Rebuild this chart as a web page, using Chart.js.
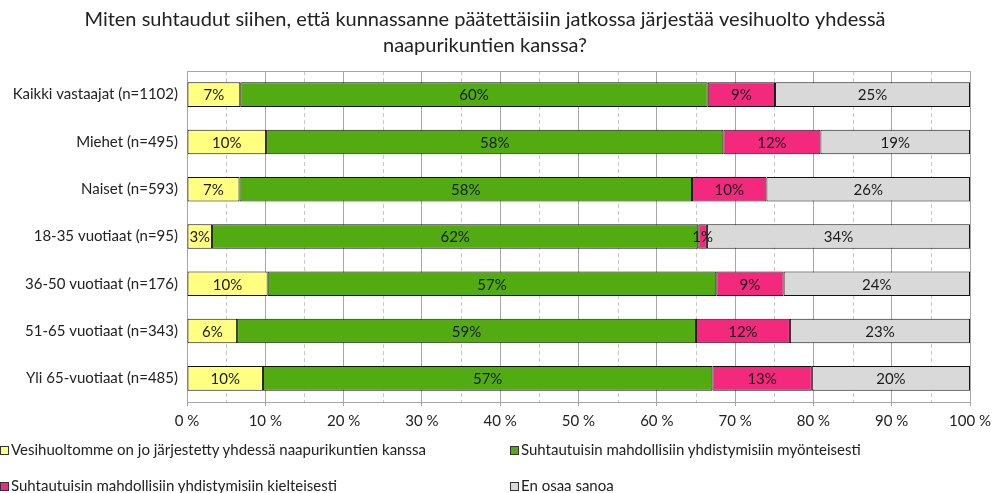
<!DOCTYPE html>
<html>
<head>
<meta charset="utf-8">
<script src="https://cdn.jsdelivr.net/npm/chart.js@4.4.0/dist/chart.umd.min.js"></script>
<style>
  html, body { margin: 0; padding: 0; background: #fff; }
  #wrap { position: relative; width: 992px; height: 493px; }
  canvas { position: absolute; left: 0; top: 0; }
  .leg { position: absolute; font-family: Lato, sans-serif; font-size: 15px; color: #222; white-space: nowrap; line-height: 18px; }
  .leg i { display: inline-block; width: 7px; height: 7px; border: 1px solid #333; margin-right: 2px; vertical-align: 0px; }
</style>
</head>
<body>
<div id="wrap">
  <canvas id="c" width="992" height="493"></canvas>
  <div class="leg" style="left:0px; top:440px;"><i style="background:#FFFF80"></i>Vesihuoltomme on jo järjestetty yhdessä naapurikuntien kanssa</div>
  <div class="leg" style="left:510px; top:440px;"><i style="background:#52AB10"></i>Suhtautuisin mahdollisiin yhdistymisiin myönteisesti</div>
  <div class="leg" style="left:0px; top:476px;"><i style="background:#F2297D"></i>Suhtautuisin mahdollisiin yhdistymisiin kielteisesti</div>
  <div class="leg" style="left:510px; top:476px;"><i style="background:#D9D9D9"></i>En osaa sanoa</div>
</div>
<script>
const categories = [
  'Kaikki vastaajat (n=1102)',
  'Miehet (n=495)',
  'Naiset (n=593)',
  '18-35 vuotiaat (n=95)',
  '36-50 vuotiaat (n=176)',
  '51-65 vuotiaat (n=343)',
  'Yli 65-vuotiaat (n=485)'
];
const seriesNames = [
  'Vesihuoltomme on jo järjestetty yhdessä naapurikuntien kanssa',
  'Suhtautuisin mahdollisiin yhdistymisiin myönteisesti',
  'Suhtautuisin mahdollisiin yhdistymisiin kielteisesti',
  'En osaa sanoa'
];
const jarjestetty = [6.8, 10.1, 6.7, 3.2, 10.3, 6.4, 9.7];
const myonteisesti = [59.7, 58.4, 57.8, 62.1, 57.3, 58.6, 57.4];
const kielteisesti = [8.6, 12.4, 9.5, 1.1, 8.6, 12.0, 12.7];
const enOsaa = [24.9, 19.1, 26.0, 33.6, 23.8, 23.0, 20.2];
const tickValues = [0, 10, 20, 30, 40, 50, 60, 70, 80, 90, 100];
const colors = ['#FFFF80', '#52AB10', '#F2297D', '#D9D9D9'];

const FONT = 'Lato, sans-serif';

const extrasPlugin = {
  id: 'extras',
  beforeDatasetsDraw(chart) {
    const ctx = chart.ctx, a = chart.chartArea, x = chart.scales.x;
    ctx.save();
    ctx.strokeStyle = '#C8C8C8';
    ctx.lineWidth = 1;
    ctx.setLineDash([4, 3]);
    for (let v = 5; v < 100; v += 10) {
      const px = Math.round(x.getPixelForValue(v)) + 0.5;
      ctx.beginPath(); ctx.moveTo(px, a.top); ctx.lineTo(px, a.bottom); ctx.stroke();
    }
    ctx.setLineDash([]);
    ctx.strokeStyle = '#A6A6A6';
    ctx.beginPath();
    ctx.moveTo(a.left, Math.round(a.top) + 0.5);
    ctx.lineTo(a.right, Math.round(a.top) + 0.5);
    ctx.stroke();
    ctx.restore();
  },
  afterDatasetsDraw(chart) {
    const ctx = chart.ctx;
    ctx.save();
    ctx.font = '15px ' + FONT;
    ctx.fillStyle = '#1a1a1a';
    ctx.textAlign = 'center';
    ctx.textBaseline = 'middle';
    chart.data.datasets.forEach((ds, i) => {
      const meta = chart.getDatasetMeta(i);
      meta.data.forEach((el, j) => {
        const v = ds.data[j];
        const cx = (el.x + el.base) / 2;
        ctx.fillText(Math.round(v) + '%', cx, el.y + 1);
      });
    });
    ctx.restore();
  }
};

const datasets = [jarjestetty, myonteisesti, kielteisesti, enOsaa].map((d, i) => ({
  label: seriesNames[i],
  data: d,
  backgroundColor: colors[i],
  borderColor: '#111',
  borderWidth: 1,
  borderSkipped: false,
  barPercentage: 0.52,
  categoryPercentage: 1.0
}));

new Chart(document.getElementById('c'), {
  type: 'bar',
  data: { labels: categories, datasets },
  options: {
    indexAxis: 'y',
    responsive: false,
    animation: false,
    devicePixelRatio: 1,
    layout: { padding: { left: 0, right: 22, top: 0, bottom: 57 } },
    plugins: {
      legend: { display: false },
      tooltip: { enabled: false },
      title: {
        display: true,
        text: ['Miten suhtaudut siihen, että kunnassanne päätettäisiin jatkossa järjestää vesihuolto yhdessä', 'naapurikuntien kanssa?'],
        font: { family: FONT, size: 20, weight: 'normal', lineHeight: 1.3 },
        color: '#222',
        padding: { top: 7, bottom: 12 }
      }
    },
    scales: {
      x: {
        stacked: true,
        min: 0,
        max: 100,
        afterBuildTicks(scale) { scale.ticks = tickValues.map(v => ({ value: v })); },
        afterFit(scale) { scale.paddingRight = 0; scale.paddingLeft = 0; },
        ticks: {
          callback: v => v + ' %',
          font: { family: FONT, size: 15 },
          color: '#222',
          padding: 6,
          maxRotation: 0
        },
        grid: { color: '#A6A6A6', lineWidth: 1, drawTicks: true, tickLength: 4 },
        border: { color: '#A6A6A6' }
      },
      y: {
        stacked: true,
        afterFit(scale) { scale.width = 187; },
        ticks: {
          font: { family: FONT, size: 15 },
          color: '#222',
          padding: 9
        },
        grid: { display: false, drawTicks: false },
        border: { display: false }
      }
    }
  },
  plugins: [extrasPlugin]
});
</script>
</body>
</html>
